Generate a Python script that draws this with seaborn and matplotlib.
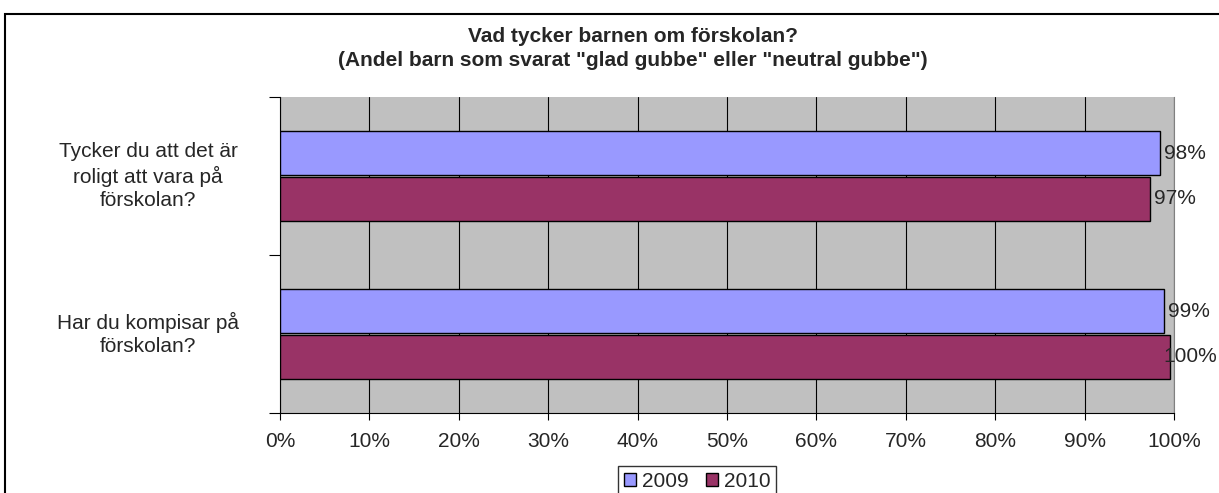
import matplotlib
matplotlib.use("Agg")
import matplotlib.pyplot as plt
import matplotlib.patches as mpatches
import pandas as pd
import seaborn as sns

# data
questions = ["Tycker du att det är\nroligt att vara på\nförskolan?",
             "Har du kompisar på\nförskolan?"]
years = ["2009", "2010"]
values_2009 = [98.4, 98.9]
values_2010 = [97.3, 99.6]
labels_2009 = ["98%", "99%"]
labels_2010 = ["97%", "100%"]
xticks = list(range(0, 101, 10))
colors = ["#9999FF", "#993366"]

df = pd.DataFrame({
    "question": list(range(len(questions))) * 2,
    "year": [years[0]] * 2 + [years[1]] * 2,
    "value": values_2009 + values_2010,
})

sns.set_style("white")
plt.rcParams["font.family"] = ["Liberation Sans", "DejaVu Sans"]

fig = plt.figure(figsize=(12.19, 4.93), dpi=100)
ax = fig.add_axes([0.2297, 0.1623, 0.7334, 0.6410])

sns.barplot(data=df, x="value", y="question", hue="year", orient="h",
            palette=colors, saturation=1, width=0.58, gap=0.04,
            edgecolor="black", linewidth=1, ax=ax, legend=False, zorder=3)

ax.set_facecolor("#C0C0C0")
ax.set_xlim(0, 100)
ax.set_ylim(1.5, -0.5)
ax.set_xticks(xticks)
ax.set_xticklabels([f"{t}%" for t in xticks], fontsize=15)
ax.xaxis.grid(True, color="black", linewidth=0.8, zorder=0)
ax.set_axisbelow(True)
ax.tick_params(axis="x", direction="out", length=5, width=0.8, color="black", bottom=True, pad=9)
ax.set_yticks([-0.5, 0.5, 1.5])
ax.set_yticklabels([])
ax.tick_params(axis="y", direction="out", length=8, width=0.8, color="black", left=True)
ax.set_xlabel("")
ax.set_ylabel("")
ax.spines["top"].set_visible(False)
ax.spines["right"].set_color("#808080")
ax.spines["left"].set_color("black")
ax.spines["bottom"].set_color("black")

for i, q in enumerate(questions):
    ax.text(-0.1477, i, q, transform=ax.get_yaxis_transform(), ha="center",
            va="center", fontsize=15, linespacing=1.3)

for cont, labs in zip(ax.containers, [labels_2009, labels_2010]):
    texts = ax.bar_label(cont, labels=labs, padding=3, fontsize=15)
    for t, lab in zip(texts, labs):
        if lab == "100%":
            # excel pulls the widest label back over the bar end
            t.xyann = (-5, 0)

fig.suptitle('Vad tycker barnen om förskolan?\n(Andel barn som svarat "glad gubbe" eller "neutral gubbe")',
             x=0.519, y=0.945, fontsize=15, fontweight="bold", linespacing=1.35)

handles = [mpatches.Patch(facecolor=c, edgecolor="black", label=y)
           for c, y in zip(colors, years)]
leg = fig.legend(handles=handles, loc="upper center", bbox_to_anchor=(0.572, 0.054),
                 ncol=2, fontsize=15, frameon=True, fancybox=False, handlelength=0.6,
                 handleheight=0.6, handletextpad=0.3, columnspacing=0.8,
                 borderpad=0.25, borderaxespad=0)
leg.get_frame().set_edgecolor("black")
leg.get_frame().set_linewidth(1)

border = mpatches.Rectangle((5 / 1219, -0.1), 1.2, (493 - 14) / 493 + 0.1,
                            transform=fig.transFigure, fill=False,
                            edgecolor="black", linewidth=1.5, clip_on=False)
fig.patches.append(border)

fig.savefig("out.png", dpi=100)
